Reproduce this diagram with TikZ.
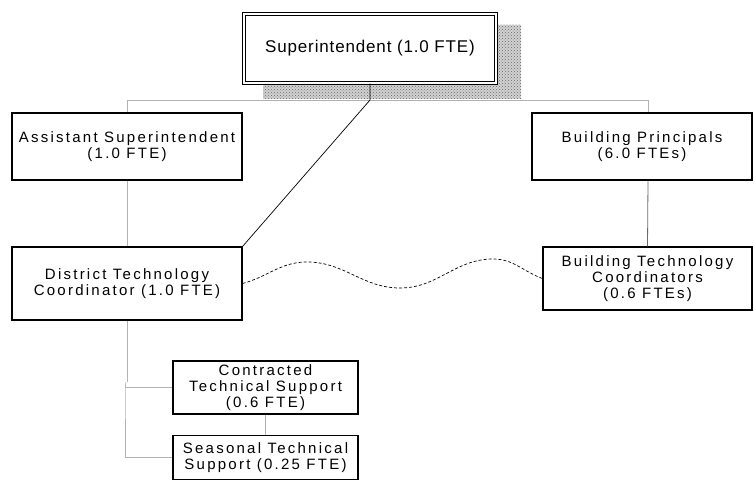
\documentclass[tikz,border=0pt]{standalone}
\usepackage{fontspec}
\setmainfont{Liberation Sans}
\newfontfamily\boxfont[LetterSpace=15]{Liberation Sans}
\newfontfamily\supfont[LetterSpace=5]{Liberation Sans}
\usetikzlibrary{patterns}
\begin{document}
\begin{tikzpicture}[x=1pt,y=-1pt,
	box/.style={draw,line width=1.2pt,fill=white,inner sep=0pt,align=center,font={\boxfont\fontsize{15}{16}\selectfont}},
	link/.style={draw=gray!60,line width=.8pt},
	wave/.style={line width=.7pt,dash pattern=on 3pt off 2pt}]
	\useasboundingbox(0,0)rectangle(754,481);
	% shadow behind the top box
	\fill[gray!35](263,25)rectangle(521,99);
	\fill[pattern=crosshatch dots,pattern color=gray!80!black](263,25)rectangle(521,99);
	\node[box,double,double distance=1.4pt,minimum width=252pt,minimum height=69pt,font={\supfont\fontsize{17}{19}\selectfont}](sup)at(370,48.5){Superintendent (1.0 FTE)};
	\node[box,minimum width=230pt,minimum height=67pt](asst)at(127,146.5){Assistant Superintendent\\(1.0 FTE)};
	\node[box,minimum width=230pt,minimum height=73pt](dtc)at(127,283.5){District Technology\\Coordinator (1.0 FTE)};
	\node[box,minimum width=220pt,minimum height=67pt](bp)at(642,146.5){Building Principals\\(6.0 FTEs)};
	\node[box,minimum width=209pt,minimum height=63pt](btc)at(647.5,278.5){Building Technology\\Coordinators\\(0.6 FTEs)};
	\node[box,minimum width=185pt,minimum height=53pt](cts)at(265.5,387.5){Contracted\\Technical Support\\(0.6 FTE)};
	\node[box,minimum width=185pt,minimum height=44pt](sts)at(265.5,457.5){Seasonal Technical\\Support (0.25 FTE)};
	\coordinate(J)at(370,100);
	\coordinate(R)at(648,100);
	\coordinate(T)at(125,382);
	\coordinate(W1)at(307,262);
	\coordinate(W2)at(400,288);
	\coordinate(W3)at(493,259);
	% lines of report
	\draw[link](asst.north)--(asst.north|-J)--(R)--(R|-bp.north);
	\draw[line width=.7pt](sup.south)--(J)--(dtc.north east);
	\draw[link](asst.south)--(dtc.north);
	\draw[link,draw=gray!85!black](R|-bp.south)--(btc.north);
	\draw[link](dtc.south)--(dtc.south|-T);
	\draw[link](cts.west)--(cts.west-|T)--(T)--(T|-sts.west)--(sts.west);
	\draw[link](cts.south)--(sts.north);
	\draw[wave](dtc.east)to[out=15,in=180](W1)to[out=0,in=180](W2)to[out=0,in=180](W3)to[out=0,in=160](btc.west);
\end{tikzpicture}
\end{document}
